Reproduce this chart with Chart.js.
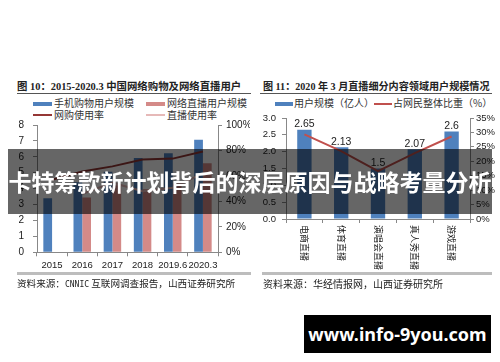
<!DOCTYPE html>
<html>
<head>
<meta charset="utf-8">
<script src="https://cdn.jsdelivr.net/npm/chart.js@4/dist/chart.umd.min.js"></script>
<style>
  html, body { margin: 0; padding: 0; background: #fff; }
  body { width: 500px; height: 362px; position: relative; overflow: hidden; font-family: "Noto Sans CJK SC", "Liberation Sans", sans-serif; color: #222; }
  .abs { position: absolute; }
  .title { font-size: 10.4px; font-weight: bold; white-space: nowrap; font-family: "Liberation Serif", "Noto Sans CJK SC", serif; }
  .rule { height: 1px; background: #555; }
  .src-rule { height: 3px; background: #bdbdbd; }
  .src { font-size: 10px; white-space: nowrap; color: #222; }
  .leg { font-size: 10px; white-space: nowrap; color: #333; line-height: 12px; }
  .sw { position: absolute; }
  #banner { left: 8px; top: 149px; width: 484px; height: 65px; background: rgba(0,0,0,0.6); color: #fff; font-weight: bold; font-size: 23px; line-height: 65px; text-align: center; white-space: nowrap; z-index: 5; }
  #mark { left: 304px; top: 315px; width: 187px; height: 38px; background: #000; color: #fff; font-weight: bold; font-size: 18px; line-height: 38px; text-align: center; font-family: "Noto Sans", "DejaVu Sans", sans-serif; z-index: 5; }
</style>
</head>
<body>
<div class="abs title" style="left:17px;top:78px;">图 10：2015-2020.3 中国网络购物及网络直播用户</div>
<div class="abs rule" style="left:17px;top:93px;width:234px;"></div>
<div class="abs title" style="left:263px;top:78px;font-size:10.1px;">图 11：2020 年 3 月直播细分内容领域用户规模情况</div>
<div class="abs rule" style="left:260px;top:93px;width:232px;"></div>

<div class="abs sw" style="left:33px;top:102px;width:19px;height:4px;background:#4f81bd;"></div>
<div class="abs leg" style="left:54px;top:97px;">手机购物用户规模</div>
<div class="abs sw" style="left:146px;top:102px;width:19px;height:4px;background:#d48a88;"></div>
<div class="abs leg" style="left:167px;top:97px;">网络直播用户规模</div>
<div class="abs sw" style="left:33px;top:114px;width:19px;height:2px;background:#953735;"></div>
<div class="abs leg" style="left:54px;top:109px;">网购使用率</div>
<div class="abs sw" style="left:146px;top:114px;width:19px;height:2px;background:#e6b9b8;"></div>
<div class="abs leg" style="left:167px;top:109px;">直播使用率</div>

<div class="abs sw" style="left:275px;top:102px;width:18px;height:4px;background:#4f81bd;"></div>
<div class="abs leg" style="left:294px;top:97px;">用户规模（亿人）</div>
<div class="abs sw" style="left:374px;top:103px;width:18px;height:2px;background:#c0504d;"></div>
<div class="abs leg" style="left:393px;top:97px;">占网民整体比重（%）</div>

<div class="abs" style="left:0;top:118px;width:250px;height:157px;"><canvas id="leftChart"></canvas></div>
<div class="abs" style="left:250px;top:112px;width:250px;height:158px;"><canvas id="rightChart"></canvas></div>

<div class="abs src-rule" style="left:17px;top:272px;width:234px;"></div>
<div class="abs src" style="left:17px;top:276px;font-size:9.6px;">资料来源：<span style="font-size:8px;font-family:'DejaVu Sans Mono',monospace;">CNNIC</span> 互联网调查报告，山西证券研究所</div>
<div class="abs src-rule" style="left:262px;top:272px;width:230px;"></div>
<div class="abs src" style="left:263px;top:276px;">资料来源：华经情报网，山西证券研究所</div>

<div id="banner" class="abs">卡特筹款新计划背后的深层原因与战略考量分析</div>
<div id="mark" class="abs">www.info-9you.com</div>

<script>
// left chart data
const years = ['2015', '2016', '2017', '2018', '2019.6', '2020.3'];
const mobileShopUsers = [3.40, 4.41, 5.06, 5.92, 6.22, 7.07];
const liveUsers = [null, 3.44, 4.22, 3.97, 4.33, 5.60];
const shopRate = [57.0, 63.4, 67.5, 72.9, 73.6, 79.2];
const liveRate = [null, 45.8, 54.7, 47.9, 50.7, 62.0];
const leftTicks = [0, 1, 2, 3, 4, 5, 6, 7, 8];
const leftPctTicks = [0, 20, 40, 60, 80, 100];

// right chart data
const genres = ['电商直播', '体育直播', '演唱会直播', '真人秀直播', '游戏直播'];
const genreUsers = [2.65, 2.13, 1.5, 2.07, 2.6];
const genreShare = [29.3, 23.5, 16.6, 22.8, 28.6];
const rightTicks = [0, 0.5, 1, 1.5, 2, 2.5, 3];
const rightPctTicks = [0, 5, 10, 15, 20, 25, 30, 35];

Chart.defaults.font.family = '"Liberation Sans", "Noto Sans CJK SC", sans-serif';
Chart.defaults.font.size = 10;
Chart.defaults.color = '#333';

const axisGrid = { drawOnChartArea: false, drawTicks: true, tickLength: 4, color: '#888' };
const axisBorder = { display: true, color: '#888', width: 1 };

function fixedTicks(list) {
    return function (scale) { scale.ticks = list.map(v => ({ value: v })); };
}

// fixed axis sizes so the plot areas line up with the picture
function fitW(w) { return function (scale) { scale.width = w; scale.paddingTop = 0; scale.paddingBottom = 0; }; }
function fitH(h) { return function (scale) { scale.height = h; scale.paddingLeft = 0; scale.paddingRight = 0; }; }

new Chart(document.getElementById('leftChart'), {
    type: 'bar',
    data: {
        labels: years,
        datasets: [
            { type: 'line', data: shopRate, yAxisID: 'y1', borderColor: '#953735', borderWidth: 2, pointRadius: 0, tension: 0, order: 0 },
            { type: 'line', data: liveRate, yAxisID: 'y1', borderColor: '#e6b9b8', borderWidth: 2, pointRadius: 0, tension: 0, order: 0 },
            { data: mobileShopUsers, backgroundColor: '#4f81bd', categoryPercentage: 0.58, barPercentage: 1, order: 1 },
            { data: liveUsers, backgroundColor: '#d48a88', categoryPercentage: 0.58, barPercentage: 1, order: 1 }
        ]
    },
    options: {
        responsive: true, maintainAspectRatio: false, animation: false,
        layout: { padding: { top: 7, left: 0, right: 0, bottom: 0 } },
        plugins: { legend: { display: false }, tooltip: { enabled: false } },
        scales: {
            x: { grid: { ...axisGrid, offset: true }, border: axisBorder, afterFit: fitH(22.7),
                 ticks: { padding: 3, maxRotation: 0, autoSkip: false, color: '#222', font: { size: 9.5 } } },
            y: { min: 0, max: 8, grid: axisGrid, border: axisBorder, afterFit: fitW(37), afterBuildTicks: fixedTicks(leftTicks),
                 ticks: { padding: 9, autoSkip: false, color: '#222' } },
            y1: { position: 'right', min: 0, max: 100, grid: axisGrid, border: axisBorder, afterFit: fitW(32), afterBuildTicks: fixedTicks(leftPctTicks),
                  ticks: { padding: 4, autoSkip: false, color: '#222', callback: v => v + '%' } }
        }
    }
});

// draws the vertical category names and the bar value labels
const rightLabels = {
    id: 'rightLabels',
    afterDatasetsDraw(chart) {
        const ctx = chart.ctx, xs = chart.scales.x;
        ctx.save();
        ctx.fillStyle = '#222';
        ctx.font = '9px "Noto Sans CJK SC", sans-serif';
        ctx.textAlign = 'left'; ctx.textBaseline = 'middle';
        genres.forEach((g, i) => {
            ctx.save();
            ctx.translate(xs.getPixelForTick(i), xs.top + 6);
            ctx.rotate(Math.PI / 2);
            ctx.fillText(g, 0, 0);
            ctx.restore();
        });
        const meta = chart.getDatasetMeta(1);
        ctx.font = '10.5px "Liberation Sans", sans-serif';
        ctx.textAlign = 'center'; ctx.textBaseline = 'bottom';
        meta.data.forEach((bar, i) => ctx.fillText(String(genreUsers[i]), bar.x, bar.y));
        ctx.restore();
    }
};

new Chart(document.getElementById('rightChart'), {
    type: 'bar',
    data: {
        labels: genres,
        datasets: [
            { type: 'line', data: genreShare, yAxisID: 'y1', borderColor: '#c0504d', borderWidth: 2, pointRadius: 0, tension: 0, order: 0 },
            { data: genreUsers, backgroundColor: '#4f81bd', categoryPercentage: 0.39, barPercentage: 1, order: 1 }
        ]
    },
    options: {
        responsive: true, maintainAspectRatio: false, animation: false,
        layout: { padding: { top: 6, left: 0, right: 0, bottom: 0 } },
        plugins: { legend: { display: false }, tooltip: { enabled: false } },
        scales: {
            x: { grid: { ...axisGrid, offset: true }, border: axisBorder, afterFit: fitH(51), ticks: { display: false } },
            y: { min: 0, max: 3, grid: axisGrid, border: axisBorder, afterFit: fitW(36), afterBuildTicks: fixedTicks(rightTicks),
                 ticks: { padding: 6, autoSkip: false, color: '#222', font: { size: 9.5 }, callback: v => v.toFixed(1) } },
            y1: { position: 'right', min: 0, max: 35, grid: axisGrid, border: axisBorder, afterFit: fitW(30), afterBuildTicks: fixedTicks(rightPctTicks),
                  ticks: { padding: 2, autoSkip: false, color: '#222', font: { size: 9.5 }, callback: v => v + '%' } }
        }
    },
    plugins: [rightLabels]
});
</script>
</body>
</html>
